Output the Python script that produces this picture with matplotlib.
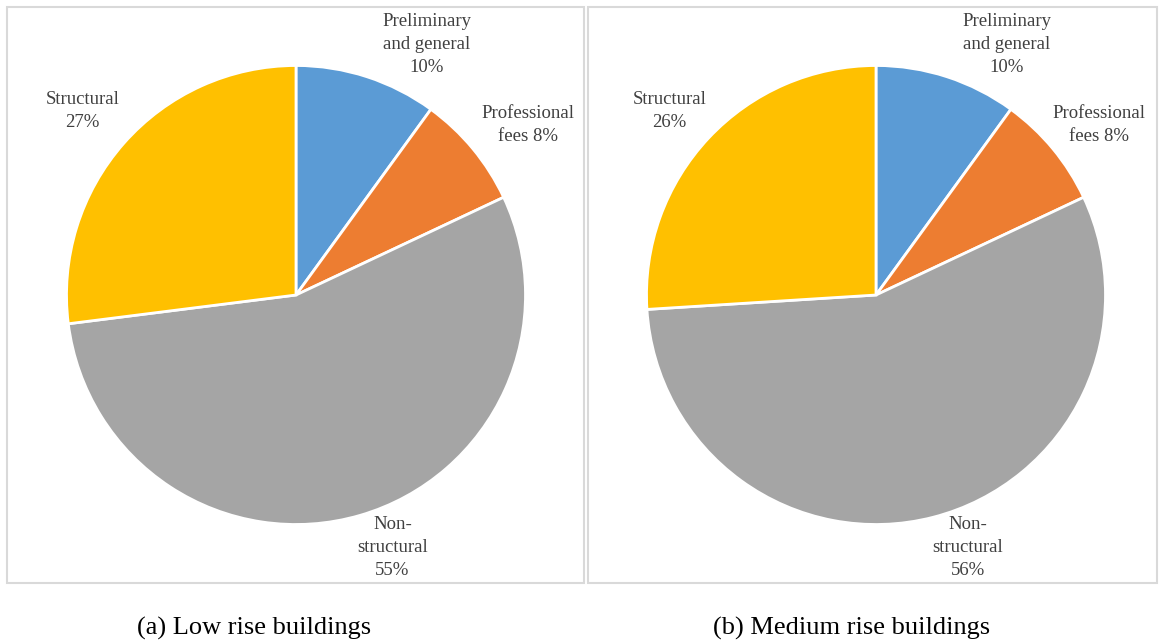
import matplotlib.pyplot as plt
from matplotlib.patches import Rectangle

# cost breakdown for the two building types
categories = ['Preliminary\nand general', 'Professional\nfees', 'Non-\nstructural', 'Structural']
low_rise = [10, 8, 55, 27]
medium_rise = [10, 8, 56, 26]
captions = ['(a) Low rise buildings', '(b) Medium rise buildings']
colors = ['#5B9BD5', '#ED7D31', '#A5A5A5', '#FFC000']

W, H = 1162, 643


def make_label(cat, v):
    if cat.startswith('Professional'):
        return 'Professional\nfees %d%%' % v
    return '%s\n%d%%' % (cat, v)


def draw_panel(fig, box, center, values, label_pos, caption, cap_x):
    # light frame around each chart
    x0, y0, x1, y1 = box
    fig.patches.append(Rectangle((x0 / W, 1 - y1 / H), (x1 - x0) / W, (y1 - y0) / H,
                                 transform=fig.transFigure, fill=False,
                                 edgecolor='#d9d9d9', linewidth=1.5))
    r = 229.5
    cx, cy = center
    ax = fig.add_axes([(cx - r) / W, 1 - (cy + r) / H, 2 * r / W, 2 * r / H])
    ax.pie(values, colors=colors, startangle=90, counterclock=False,
           wedgeprops=dict(edgecolor='white', linewidth=2))
    ax.set_xlim(-1, 1)
    ax.set_ylim(-1, 1)
    for cat, v, (lx, ly) in zip(categories, values, label_pos):
        ax.text(lx, ly, make_label(cat, v), ha='center', va='center',
                family='Liberation Serif', fontsize=13.5, color='#404040',
                linespacing=1.45)
    fig.text(cap_x / W, 1 - 628 / H, caption, ha='center', va='center',
             family='Liberation Serif', fontsize=19, color='black')


fig = plt.figure(figsize=(W / 100, H / 100), dpi=100)

draw_panel(fig, (7, 7, 584, 583), (296, 295), low_rise,
           [(0.57, 1.09), (1.01, 0.74), (0.42, -1.10), (-0.93, 0.80)],
           captions[0], 254)
draw_panel(fig, (588, 7, 1157, 583), (876, 295), medium_rise,
           [(0.57, 1.09), (0.97, 0.74), (0.40, -1.10), (-0.90, 0.80)],
           captions[1], 852)

fig.savefig('out.png', dpi=100)
